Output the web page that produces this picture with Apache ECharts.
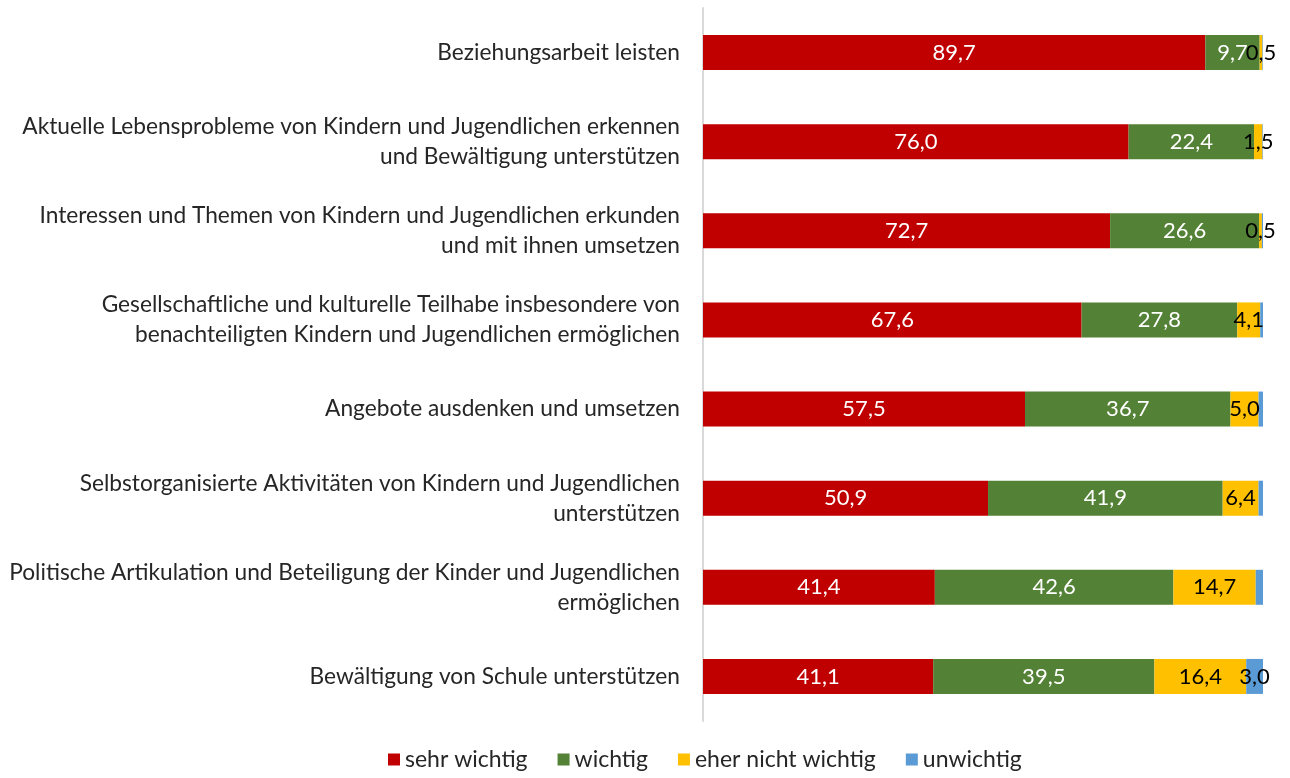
<!DOCTYPE html>
<html><head><meta charset="utf-8">
<script src="https://cdn.jsdelivr.net/npm/echarts@6/dist/echarts.min.js"></script>
<style>html,body{margin:0;padding:0;background:#fff}#c{width:1290px;height:778px}</style>
</head><body><div id="c"></div>
<script>
const categories = [
  "Beziehungsarbeit leisten",
  "Aktuelle Lebensprobleme von Kindern und Jugendlichen erkennen\nund Bewältigung unterstützen",
  "Interessen und Themen von Kindern und Jugendlichen erkunden\nund mit ihnen umsetzen",
  "Gesellschaftliche und kulturelle Teilhabe insbesondere von\nbenachteiligten Kindern und Jugendlichen ermöglichen",
  "Angebote ausdenken und umsetzen",
  "Selbstorganisierte Aktivitäten von Kindern und Jugendlichen\nunterstützen",
  "Politische Artikulation und Beteiligung der Kinder und Jugendlichen\nermöglichen",
  "Bewältigung von Schule unterstützen"
];
const sehrWichtig = [89.7, 76.0, 72.7, 67.6, 57.5, 50.9, 41.4, 41.1];
const wichtig = [9.7, 22.4, 26.6, 27.8, 36.7, 41.9, 42.6, 39.5];
const eherNichtWichtig = [0.5, 1.5, 0.5, 4.1, 5.0, 6.4, 14.7, 16.4];
const unwichtig = [0.1, 0.1, 0.2, 0.5, 0.8, 0.8, 1.3, 3.0];
const unwichtigLabelShown = [false, false, false, false, false, false, false, true];

const fmt = p => p.value.toFixed(1).replace('.', ',');
const FONT = "Lato";
function mk(name, data, color, labelColor, shown) {
  return {
    name, type: 'bar', stack: 'a', barWidth: 35,
    itemStyle: { color },
    label: { show: true, position: 'inside', color: labelColor, fontSize: 22, fontFamily: FONT, formatter: fmt },
    data: data.map((v, i) => shown ? { value: v, label: { show: shown[i] } } : v)
  };
}
const chart = echarts.init(document.getElementById('c'));
chart.setOption({
  animation: false,
  textStyle: { fontFamily: FONT },
  grid: { left: 703, width: 560, top: 8, bottom: 57, containLabel: false, outerBoundsMode: 'none' },
  xAxis: { type: 'value', min: 0, max: 100, show: false },
  yAxis: {
    type: 'category', inverse: true, data: categories,
    axisLine: { show: true, lineStyle: { color: '#d9d9d9', width: 2 } },
    axisTick: { show: false },
    axisLabel: { fontSize: 22.7, color: '#262626', fontFamily: FONT, margin: 23, lineHeight: 30, align: 'right' }
  },
  legend: {
    bottom: 2, left: 383, itemWidth: 12, itemHeight: 12, itemGap: 30, icon: 'rect',
    textStyle: { fontSize: 23, color: '#262626', fontFamily: FONT }
  },
  series: [
    mk('sehr wichtig', sehrWichtig, '#c00000', '#ffffff'),
    mk('wichtig', wichtig, '#538135', '#ffffff'),
    mk('eher nicht wichtig', eherNichtWichtig, '#ffc000', '#000000'),
    mk('unwichtig', unwichtig, '#5b9bd5', '#000000', unwichtigLabelShown)
  ]
});
</script></body></html>
